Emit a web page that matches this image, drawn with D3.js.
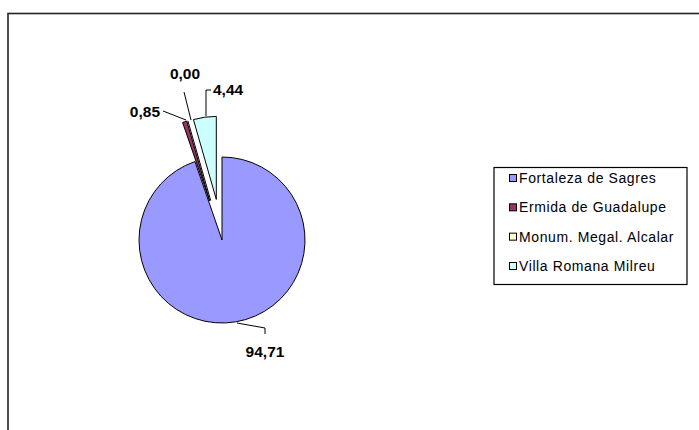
<!DOCTYPE html>
<html><head><meta charset="utf-8">
<script src="https://cdn.jsdelivr.net/npm/d3@7"></script>
<style>body{margin:0;background:#fff;} svg{display:block;}</style>
</head><body>
<svg id="c" width="699" height="430"></svg>
<script>
const categories = ["Fortaleza de Sagres","Ermida de Guadalupe","Monum. Megal. Alcalar","Villa Romana Milreu"];
const values = [94.71, 0.85, 0.00, 4.44];
const labels = ["94,71","0,85","0,00","4,44"];
const colors = ["#9999FF","#993366","#FFFFCC","#CCFFFF"];
const exploded = [false, true, true, true];

const svg = d3.select("#c");
// outer frame
svg.append("rect").attr("x",8).attr("y",13.5).attr("width",720).attr("height",440)
  .attr("fill","#fff").attr("stroke","#222").attr("stroke-width",1.6);

const cx = 222, cy = 240, R = 83, ex = 41;
const pie = d3.pie().sort(null).value(d=>d)(values);
const arc = d3.arc().innerRadius(0).outerRadius(R);
const g = svg.append("g").attr("transform",`translate(${cx},${cy})`);
pie.forEach((p,i)=>{
  const mid = (p.startAngle+p.endAngle)/2;
  const dx = exploded[i] ? Math.sin(mid)*ex : 0, dy = exploded[i] ? -Math.cos(mid)*ex : 0;
  let d;
  if (p.endAngle - p.startAngle < 1e-6) {
    d = `M0,0L${Math.sin(mid)*R},${-Math.cos(mid)*R}`;
  } else d = arc(p);
  g.append("path").attr("d", d).attr("transform",`translate(${dx},${dy})`)
    .attr("fill", colors[i]).attr("stroke","#000").attr("stroke-width",1);
});

// labels with leader lines
const lab = [
  {pts:[[237,323],[265,328],[265,334]], x:265, y:357, anchor:"middle"},
  {pts:[[186,120],[163,111]], x:160, y:117, anchor:"end"},
  {pts:[[191,120],[184,92]], x:185, y:79, anchor:"middle"},
  {pts:[[206,116],[206,90],[211,90]], x:213, y:95, anchor:"start"}
];
lab.forEach((l,i)=>{
  svg.append("path").attr("d", d3.line()(l.pts)).attr("fill","none").attr("stroke","#000").attr("stroke-width",1);
  svg.append("text").attr("x",l.x).attr("y",l.y).attr("text-anchor",l.anchor)
    .attr("font-family","Liberation Sans, Arial, sans-serif").attr("font-weight","bold")
    .attr("font-size",15.5).attr("fill","#000").text(labels[i]);
});

// legend
svg.append("rect").attr("x",494).attr("y",167.5).attr("width",193).attr("height",117)
  .attr("fill","#fff").attr("stroke","#000").attr("stroke-width",1.2);
const ly = d3.scalePoint().domain(categories).range([178,266]);
categories.forEach((c,i)=>{
  const y = ly(c);
  svg.append("rect").attr("x",509.5).attr("y",y-3.5).attr("width",7).attr("height",7)
    .attr("fill",colors[i]).attr("stroke","#000").attr("stroke-width",1);
  svg.append("text").attr("x",519).attr("y",y+5).attr("font-family","Liberation Sans, Arial, sans-serif")
    .attr("font-size",14).attr("letter-spacing",0.6).attr("fill","#000").text(c);
});
</script>
</body></html>
